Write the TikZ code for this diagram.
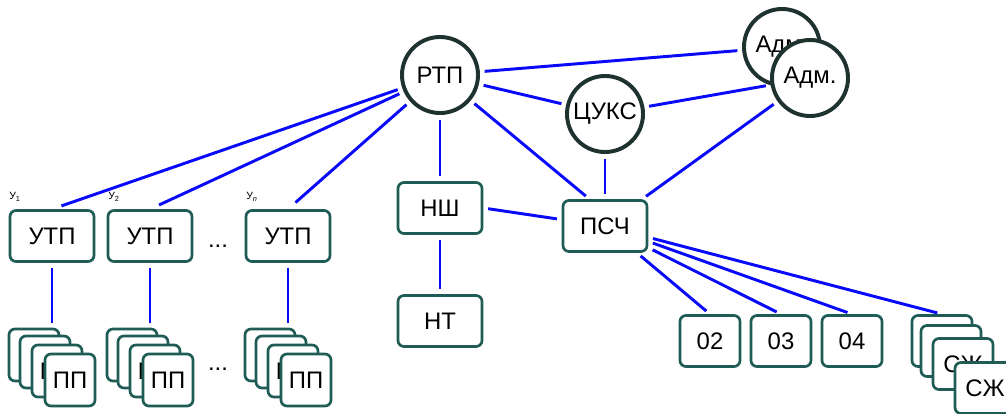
\documentclass[tikz,border=0pt]{standalone}
\usepackage{fontspec}
\setmainfont{Liberation Sans}
\definecolor{boxline}{RGB}{31,92,86}
\definecolor{ringline}{RGB}{30,50,48}
\definecolor{linkblue}{RGB}{10,10,250}
\tikzset{
	unit/.style={draw=boxline,line width=1.9pt,rounded corners=0.15cm,fill=white,minimum width=2.1cm,minimum height=1.275cm,inner sep=0pt,font=\fontsize{17}{20}\selectfont},
	small/.style={unit,minimum width=1.5cm},
	card/.style={unit,minimum width=1.25cm,minimum height=1.3cm},
	chief/.style={circle,draw=ringline,line width=2.8pt,fill=white,minimum size=1.9cm,inner sep=0pt,font=\fontsize{17}{20}\selectfont},
	link/.style={draw=linkblue,line width=2.1pt,shorten <=0.12cm,shorten >=0.12cm},
	tag/.style={font=\fontsize{7.5}{8}\selectfont,inner sep=0pt,anchor=west},
	dots/.style={font=\fontsize{17}{20}\selectfont,inner sep=0pt}
}
\begin{document}
\begin{tikzpicture}[x=0.025cm,y=-0.025cm]
		\clip (0,0) rectangle (1006,414);
		% cercles du haut
		\node[chief] (rtp) at (440,75) {РТП};
		\node[chief] (cuks) at (605,114) {ЦУКС};
		\node[chief] (admb) at (782,47) {Адм.};
		\node[chief] (adm) at (810,78) {Адм.};
		% centre
		\node[unit] (nsh) at (440,208) {НШ};
		\node[unit] (nt) at (440,321) {НТ};
		\node[unit] (psch) at (605,226) {ПСЧ};
		\node[small] (o2) at (710,341) {02};
		\node[small] (o3) at (781,341) {03};
		\node[small] (o4) at (852,341) {04};
		\node[small] (sja) at (942,341) {};
		\node[small] (sjb) at (951,351) {};
		\node[small] (sjc) at (963,364) {СЖ};
		\node[small] (sjd) at (985,388) {СЖ};
		% УТП
		\node[unit] (utpa) at (52,236) {УТП};
		\node[unit] (utpb) at (150,236) {УТП};
		\node[unit] (utpn) at (288,236) {УТП};
		\node[tag] (ua) at (9,197) {У\textsubscript{1}};
		\node[tag] (ub) at (108,197) {У\textsubscript{2}};
		\node[tag] (un) at (246,197) {У\textsubscript{\itshape n}};
		\node[dots] (du) at (218,246) {...};
		% ПП
		\node[card] (ppaa) at (34,355) {};
		\node[card] (ppab) at (45,362) {};
		\node[card] (ppac) at (57,371) {ПП};
		\node[card] (ppad) at (70,380) {ПП};
		\node[card] (ppba) at (132,355) {};
		\node[card] (ppbb) at (143,362) {};
		\node[card] (ppbc) at (155,371) {ПП};
		\node[card] (ppbd) at (168,380) {ПП};
		\node[card] (ppna) at (270,355) {};
		\node[card] (ppnb) at (281,362) {};
		\node[card] (ppnc) at (293,371) {ПП};
		\node[card] (ppnd) at (306,380) {ПП};
		\node[dots] (dp) at (218,369) {...};
		% liaisons
		\draw[link] (rtp) -- (admb);
		\draw[link] (rtp) -- (cuks);
		\draw[link] (cuks) -- (adm);
		\draw[link] (adm) -- (psch);
		\draw[link] (rtp) -- (psch.120);
		\draw[link] (cuks) -- (psch);
		\draw[link] (rtp) -- (nsh);
		\draw[link] (nsh) -- (nt);
		\draw[link] (nsh.east) -- (psch);
		\draw[link,shorten <=0.25cm] (utpa.north) -- (rtp);
		\draw[link,shorten <=0.25cm] (utpb.north) -- (rtp);
		\draw[link,shorten <=0.25cm] (utpn.north) -- (rtp);
		\draw[link] (utpa.south) -- (utpa.south |- ppaa.north);
		\draw[link] (utpb.south) -- (utpb.south |- ppba.north);
		\draw[link] (utpn.south) -- (utpn.south |- ppna.north);
		\draw[link] (psch) -- (o2.north);
		\draw[link] (psch) -- (o3.north);
		\draw[link] (psch) -- (o4.north);
		\draw[link] (psch) -- (sja.north);
	\end{tikzpicture}
\end{document}
